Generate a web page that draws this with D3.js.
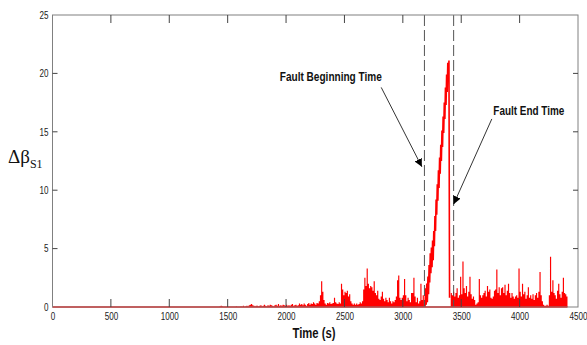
<!DOCTYPE html>
<html>
<head>
<meta charset="utf-8">
<script src="https://cdn.jsdelivr.net/npm/d3@7"></script>
<style>
  body { margin: 0; background: #fff; }
</style>
</head>
<body>
<div id="chart"></div>
<script>
// axis ticks
var xTicks = [0, 500, 1000, 1500, 2000, 2500, 3000, 3500, 4000, 4500];
var yTicks = [0, 5, 10, 15, 20, 25];

// signal before the fault, one value every 10 s from 1400 s
var preStart = 1400;
var step = 10;
var preFault = [
  0, 0, 0, 0.05, 0.1, 0.05, 0, 0, 0, 0,
  0, 0, 0, 0, 0, 0, 0, 0.05, 0, 0,
  0, 0.05, 0, 0.1, 0, 0.05, 0.1, 0.05, 0.15, 0.2,
  0.25, 0.15, 0.1, 0.05, 0.1, 0.1, 0.05, 0.1, 0.15, 0.05,
  0.1, 0.2, 0.1, 0.05, 0.15, 0.1, 0.2, 0.15, 0.1, 0.05,
  0.15, 0.2, 0.1, 0.25, 0.1, 0.15, 0.1, 0.2, 0.15, 0.1,
  0.2, 0.1, 0.15, 0.1, 0.2, 0.25, 0.1, 0.15, 0.2, 0.1,
  0.15, 0.3, 0.2, 0.25, 0.15, 0.3, 0.2, 0.1, 0.25, 0.35,
  0.2, 0.3, 0.25, 0.4, 0.3, 0.2, 0.35, 0.3, 0.5, 1.0,
  2.2, 1.3, 0.6, 0.3, 0.2, 0.35, 0.3, 0.4, 0.25, 0.3,
  0.35, 0.8, 0.4, 0.3, 0.25, 0.4, 0.3, 2.0, 1.5, 1.0,
  1.3, 1.2, 1.4, 0.9, 1.1, 0.5, 0.3, 0.2, 0.3, 0.2,
  0.3, 0.2, 0.25, 0.4, 0.3, 0.5, 1.5, 2.5, 1.8, 3.3,
  2.0, 1.6, 1.8, 1.7, 1.4, 2.2, 1.2, 1.0, 1.4, 0.7,
  0.6, 0.9, 1.3, 0.7, 0.5, 0.8, 0.6, 0.4, 0.8, 0.5,
  0.3, 0.5, 0.4, 0.6, 0.9, 2.3, 2.7, 0.8, 0.6, 0.8,
  1.0, 2.4, 1.0, 0.5, 0.8, 0.6, 0.4, 1.2, 1.2, 2.5,
  0.9, 0.4, 0.8, 0.3, 0.5, 2.0, 0.6, 1.0, 0.4
];

// fault ramp, every 5 s
var rampTime = [
  3180, 3185, 3190, 3195, 3200, 3205, 3210, 3215, 3220, 3225,
  3230, 3235, 3240, 3245, 3250, 3255, 3260, 3265, 3270, 3275,
  3280, 3285, 3290, 3295, 3300, 3305, 3310, 3315, 3320, 3325,
  3330, 3335, 3340, 3345, 3350, 3355, 3360, 3365, 3370, 3375,
  3380, 3385, 3390, 3395, 3400
];
var rampValue = [
  0.0, 0.6, 0.0, 1.6, 0.2, 2.0, 0.4, 2.6, 1.1, 3.6,
  2.1, 4.6, 2.9, 5.1, 3.4, 5.7, 4.0, 6.5, 5.2, 7.8,
  6.5, 9.2, 7.9, 10.5, 9.1, 11.7, 10.2, 12.8, 11.4, 13.9,
  12.5, 15.1, 13.7, 16.3, 14.9, 17.5, 16.1, 18.8, 17.3, 19.9,
  18.4, 20.9, 19.4, 21.1, 0.8
];

// signal after the fault, every 10 s from 3410 s
var postStart = 3410;
var postFault = [
  1.2, 1.0, 1.3, 0.9, 1.2, 1.6, 0.8, 1.0, 2.6, 1.1,
  3.9, 1.6, 1.2, 1.8, 0.9, 1.3, 2.6, 1.1, 0.7, 0.9,
  0.6, 0.2, 0.3, 0.4, 2.4, 1.0, 0.8, 1.0, 1.2, 1.4,
  0.9, 1.8, 1.3, 1.5, 0.8, 0.7, 0.9, 1.4, 1.5, 3.2,
  1.2, 1.7, 1.0, 1.6, 1.7, 1.2, 1.9, 1.0, 1.4, 2.0,
  1.2, 0.8, 1.2, 0.9, 0.7, 0.9, 1.0, 0.8, 3.3, 1.3,
  0.9, 2.0, 1.1, 1.3, 0.7, 1.0, 1.7, 0.8, 1.0, 0.7,
  1.1, 0.6, 1.0, 1.2, 0.8, 1.3, 3.0, 1.0, 0.5, 0.2,
  0.1, 0.1, 0.2, 0.1, 1.0, 4.3, 1.3, 2.3, 1.2, 1.0,
  0.7, 1.4, 2.0, 1.1, 0.8, 1.3, 2.5, 1.2, 1.1, 0.9, 0.8
];

var faultBegin = 3185;
var faultEnd = 3435;

var w = 587;
var h = 345;
var margin = { left: 52.5, right: 9, top: 15, bottom: 38 };
var sans = "Liberation Sans, Arial, sans-serif";

var svg = d3.select("#chart")
            .append("svg")
            .attr("width", w)
            .attr("height", h)
            .attr("font-family", sans);

var xScale = d3.scaleLinear()
               .domain([0, 4500])
               .range([margin.left, w - margin.right]);

var yScale = d3.scaleLinear()
               .domain([0, 25])
               .range([h - margin.bottom, margin.top]);

var pre = preFault.map(function(v, i) { return { t: preStart + i * step, v: v }; });
var post = postFault.map(function(v, i) { return { t: postStart + i * step, v: v }; });
var ramp = rampTime.map(function(t, i) { return { t: t, v: rampValue[i] }; });

var area = d3.area()
             .curve(d3.curveStepAfter)
             .x(function(d) { return xScale(d.t); })
             .y0(yScale(0))
             .y1(function(d) { return yScale(d.v); });

var line = d3.line()
             .x(function(d) { return xScale(d.t); })
             .y(function(d) { return yScale(d.v); });

// flat part of the signal along zero
svg.append("line")
   .attr("x1", xScale(0))
   .attr("x2", xScale(post[post.length - 1].t))
   .attr("y1", yScale(0))
   .attr("y2", yScale(0))
   .attr("stroke", "#ff0000")
   .attr("stroke-width", 1.5);

svg.append("path")
   .datum(pre)
   .attr("d", area)
   .attr("fill", "#ff0000");

svg.append("path")
   .datum(post)
   .attr("d", area)
   .attr("fill", "#ff0000");

svg.append("path")
   .datum(ramp)
   .attr("d", line)
   .attr("fill", "none")
   .attr("stroke", "#ff0000")
   .attr("stroke-width", 1.6);

// dashed fault markers
svg.selectAll(".fault")
   .data([faultBegin, faultEnd])
   .enter()
   .append("line")
   .attr("class", "fault")
   .attr("x1", function(d) { return xScale(d); })
   .attr("x2", function(d) { return xScale(d); })
   .attr("y1", yScale(25))
   .attr("y2", yScale(0))
   .attr("stroke", "#555")
   .attr("stroke-dasharray", "11,4");

// axes box
svg.append("rect")
   .attr("x", xScale(0))
   .attr("y", yScale(25))
   .attr("width", xScale(4500) - xScale(0))
   .attr("height", yScale(0) - yScale(25))
   .attr("fill", "none")
   .attr("stroke", "#808080");

var xAxis = d3.axisBottom(xScale).tickValues(xTicks).tickFormat(d3.format("d")).tickSize(0).tickPadding(6);
var yAxis = d3.axisLeft(yScale).tickValues(yTicks).tickFormat(d3.format("d")).tickSize(0).tickPadding(4);

var gx = svg.append("g")
            .attr("transform", "translate(0," + yScale(0) + ")")
            .call(xAxis);
var gy = svg.append("g")
            .attr("transform", "translate(" + xScale(0) + ",0)")
            .call(yAxis);

[gx, gy].forEach(function(g) {
  g.select(".domain").remove();
  g.selectAll("text")
   .attr("font-family", sans)
   .attr("font-size", 10.5)
   .attr("fill", "#222")
   .attr("lengthAdjust", "spacingAndGlyphs")
   .attr("textLength", function(d) { return String(d).length * 4.5; });
});

// inward ticks on all four sides
svg.selectAll(".xtickb")
   .data(xTicks.slice(1, -1))
   .enter()
   .append("line")
   .attr("x1", function(d) { return xScale(d); })
   .attr("x2", function(d) { return xScale(d); })
   .attr("y1", yScale(0))
   .attr("y2", yScale(0) - 8)
   .attr("stroke", "#444");

svg.selectAll(".xtickt")
   .data(xTicks.slice(1, -1))
   .enter()
   .append("line")
   .attr("x1", function(d) { return xScale(d); })
   .attr("x2", function(d) { return xScale(d); })
   .attr("y1", yScale(25))
   .attr("y2", yScale(25) + 8)
   .attr("stroke", "#444");

svg.selectAll(".ytickl")
   .data(yTicks.slice(1, -1))
   .enter()
   .append("line")
   .attr("x1", xScale(0))
   .attr("x2", xScale(0) + 5)
   .attr("y1", function(d) { return yScale(d); })
   .attr("y2", function(d) { return yScale(d); })
   .attr("stroke", "#444");

svg.selectAll(".ytickr")
   .data(yTicks.slice(1, -1))
   .enter()
   .append("line")
   .attr("x1", xScale(4500))
   .attr("x2", xScale(4500) - 5)
   .attr("y1", function(d) { return yScale(d); })
   .attr("y2", function(d) { return yScale(d); })
   .attr("stroke", "#444");

// axis titles
svg.append("text")
   .attr("x", 314)
   .attr("y", 338)
   .attr("text-anchor", "middle")
   .attr("font-size", 14)
   .attr("font-weight", "bold")
   .attr("fill", "#111")
   .attr("lengthAdjust", "spacingAndGlyphs")
   .attr("textLength", 43)
   .text("Time (s)");

var ylab = svg.append("text")
              .attr("x", 8)
              .attr("y", 163)
              .attr("font-family", "Liberation Serif, Times New Roman, serif")
              .attr("font-size", 19)
              .attr("fill", "#111");
ylab.append("tspan").text("Δβ");
ylab.append("tspan")
    .attr("font-size", 12)
    .attr("dy", 5)
    .text("S1");

// annotations
svg.append("defs")
   .append("marker")
   .attr("id", "head")
   .attr("viewBox", "0 0 10 10")
   .attr("refX", 10)
   .attr("refY", 5)
   .attr("markerWidth", 8)
   .attr("markerHeight", 8)
   .attr("markerUnits", "userSpaceOnUse")
   .attr("orient", "auto")
   .append("path")
   .attr("d", "M0,0 L10,5 L0,10 z")
   .attr("fill", "#000");

var notes = [
  { label: "Fault Beginning Time", width: 102, tx: 2820, ty: 19.7, anchor: "end", x1: 2815, y1: 18.8, x2: 3163, y2: 12.0 },
  { label: "Fault End Time", width: 71, tx: 3775, ty: 16.8, anchor: "start", x1: 3762, y1: 16.1, x2: 3435, y2: 8.8 }
];

svg.selectAll(".arrow")
   .data(notes)
   .enter()
   .append("line")
   .attr("x1", function(d) { return xScale(d.x1); })
   .attr("y1", function(d) { return yScale(d.y1); })
   .attr("x2", function(d) { return xScale(d.x2); })
   .attr("y2", function(d) { return yScale(d.y2); })
   .attr("stroke", "#000")
   .attr("stroke-width", 0.8)
   .attr("marker-end", "url(#head)");

svg.selectAll(".note")
   .data(notes)
   .enter()
   .append("text")
   .attr("x", function(d) { return xScale(d.tx); })
   .attr("y", function(d) { return yScale(d.ty); })
   .attr("dy", "0.35em")
   .attr("text-anchor", function(d) { return d.anchor; })
   .attr("font-size", 12)
   .attr("font-weight", "bold")
   .attr("fill", "#111")
   .attr("lengthAdjust", "spacingAndGlyphs")
   .attr("textLength", function(d) { return d.width; })
   .text(function(d) { return d.label; });
</script>
</body>
</html>
